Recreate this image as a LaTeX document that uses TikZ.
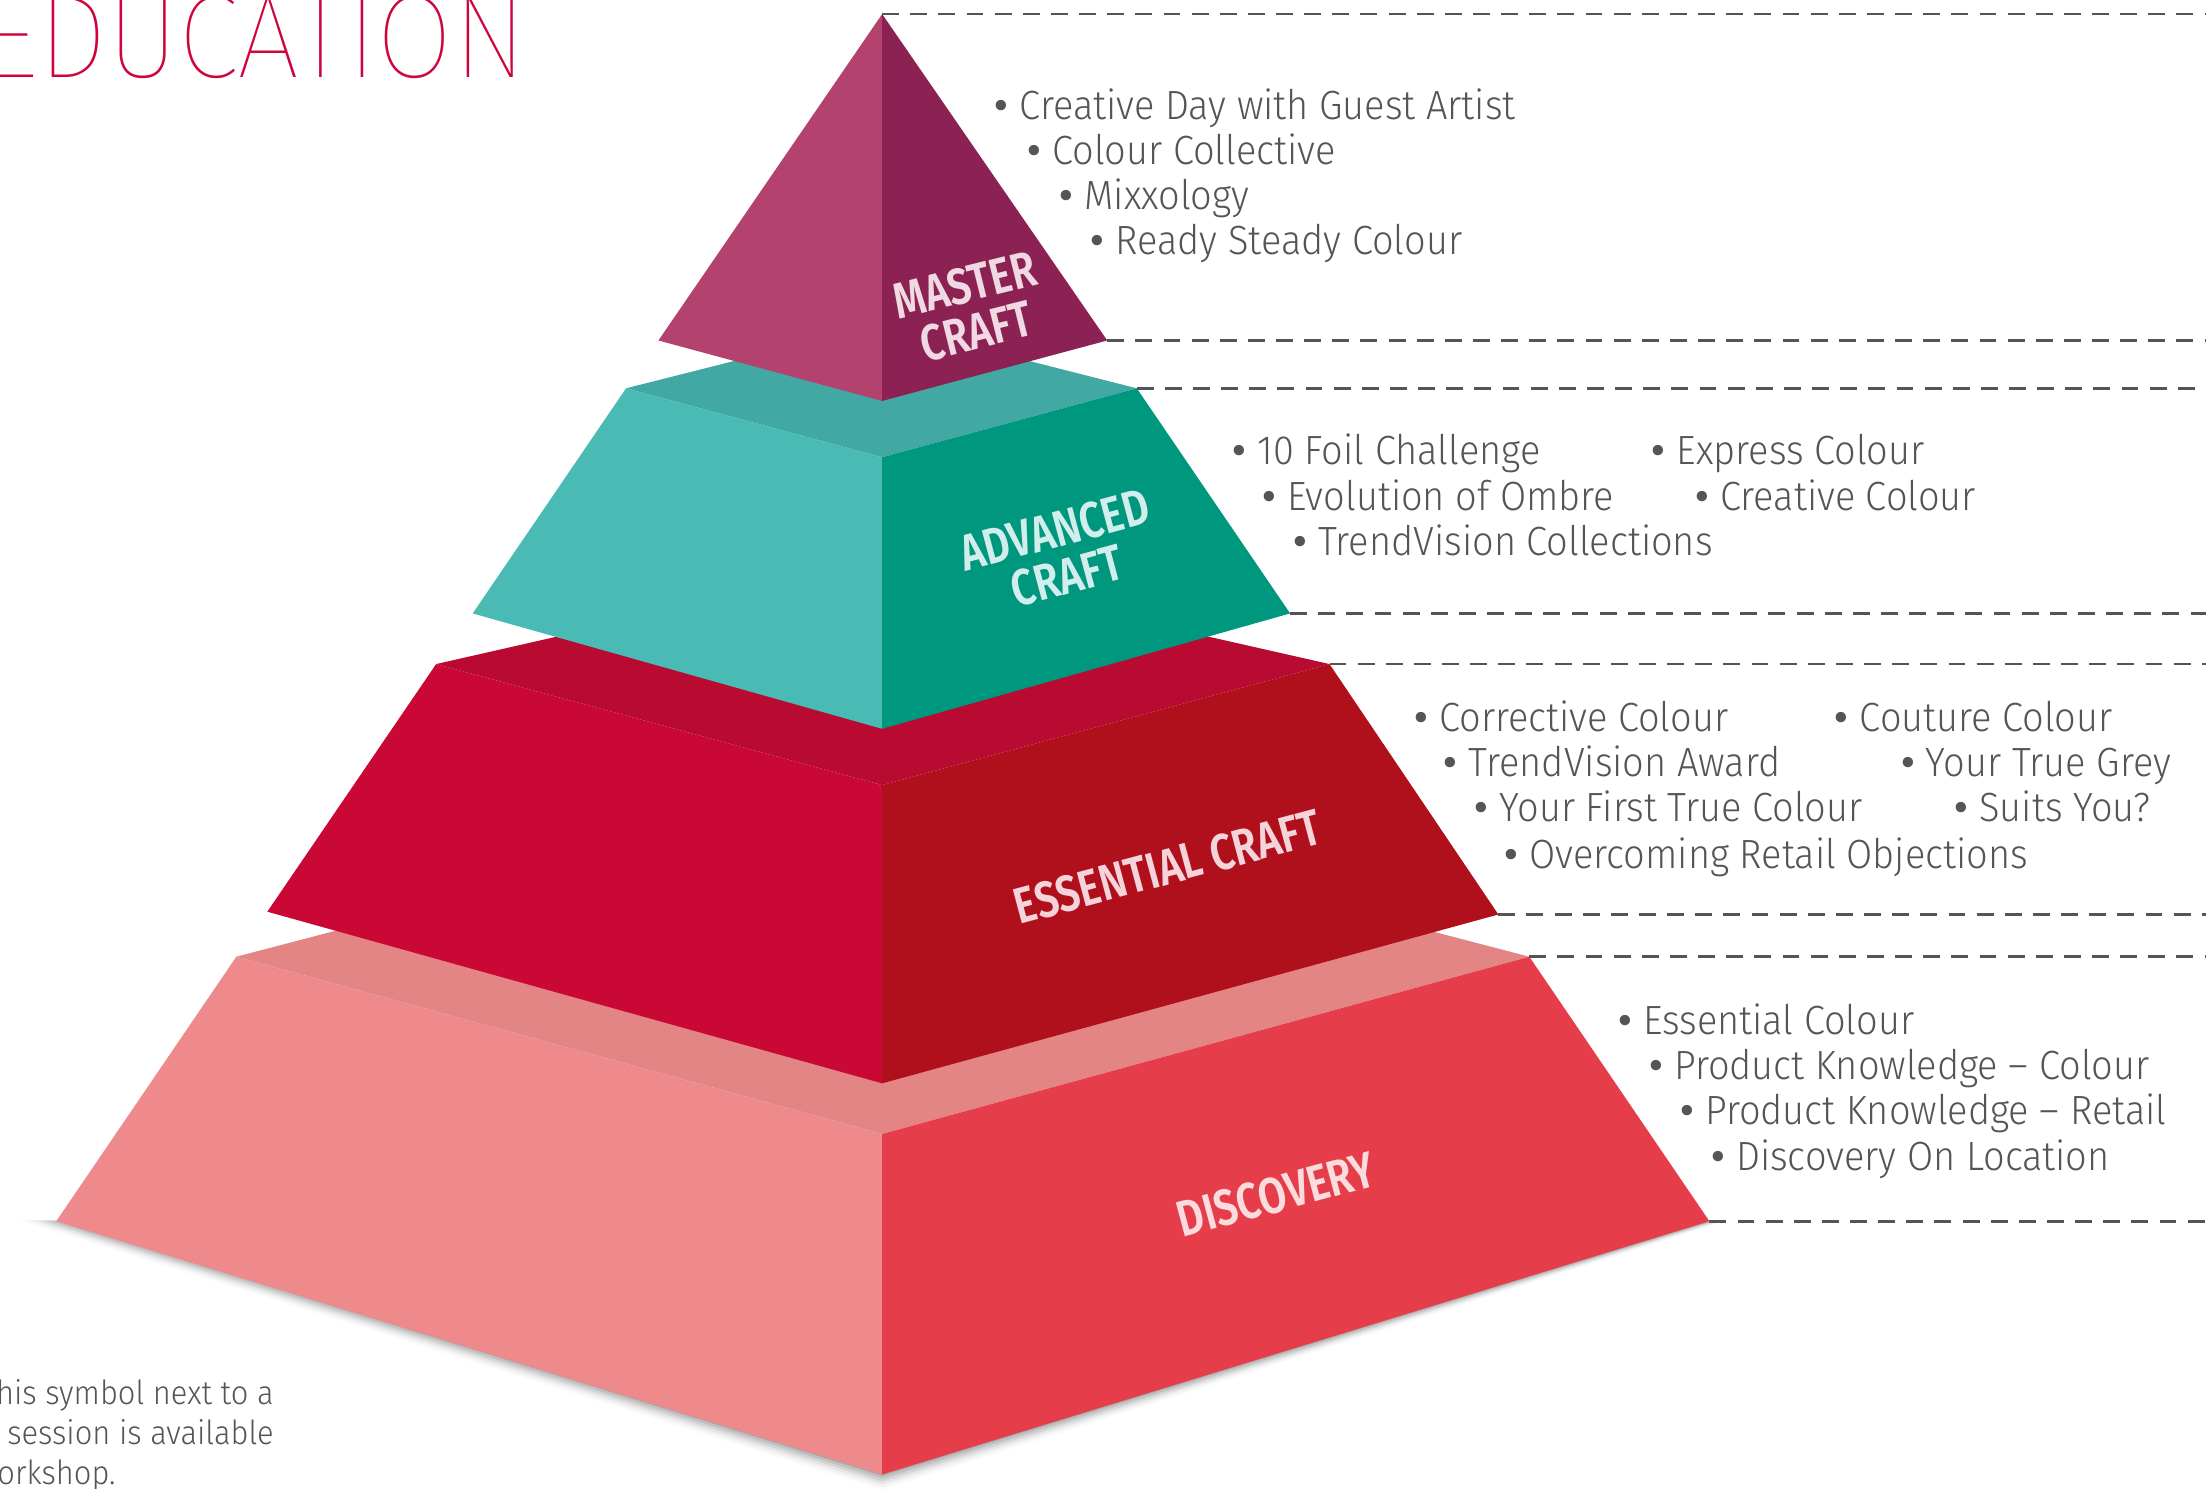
\documentclass[tikz,border=0pt]{standalone}
\usepackage{fontspec}
\IfFontExistsTF{Fira Sans Light}{\newfontfamily\bodyfont[FakeStretch=0.93]{Fira Sans Light}}{\newfontfamily\bodyfont[FakeStretch=0.93]{Fira Sans}}
\IfFontExistsTF{Fira Sans SemiBold}{\newfontfamily\labfont[FakeStretch=0.8]{Fira Sans SemiBold}}{\newfontfamily\labfont[FakeStretch=0.8,FakeBold=1]{Fira Sans}}
\IfFontExistsTF{Fira Sans Thin}{\newfontfamily\thinfont[FakeStretch=0.94]{Fira Sans Thin}}{\newfontfamily\thinfont[FakeStretch=0.94]{Fira Sans}}
\IfFontExistsTF{Fira Sans Medium}{\newfontfamily\bulfont{Fira Sans Medium}}{\newfontfamily\bulfont{Fira Sans}}
\newcommand\bl{{\bulfont •}\hspace{8pt}}
\definecolor{mL}{HTML}{B3426F}
\definecolor{mR}{HTML}{8C2153}
\definecolor{aT}{HTML}{42A8A4}
\definecolor{aL}{HTML}{49BAB4}
\definecolor{aR}{HTML}{00977F}
\definecolor{eT}{HTML}{B90A32}
\definecolor{eL}{HTML}{C90836}
\definecolor{eR}{HTML}{B0101B}
\definecolor{dT}{HTML}{E38585}
\definecolor{dL}{HTML}{EE898C}
\definecolor{dR}{HTML}{E53E4A}
\definecolor{txt}{HTML}{555555}
\definecolor{crim}{HTML}{D0043C}
\begin{document}
\begin{tikzpicture}[x=1pt,y=-1pt,
  dashline/.style={draw=txt,line width=2pt,dash pattern=on 12pt off 8pt},
  item/.style={anchor=base west,inner sep=0pt,text=txt,font=\bodyfont\fontsize{29}{32}\selectfont},
  foot/.style={anchor=base west,inner sep=0pt,text=txt,font=\bodyfont\fontsize{23.6}{28}\selectfont},
  tierlab/.style={inner sep=0pt,align=center,font=\labfont\fontsize{36}{34}\selectfont}]
\useasboundingbox (0,0) rectangle (1568,1058);
\clip (0,0) rectangle (1568,1058);
\fill[white] (0,0) rectangle (1568,1058);

% shadow
\foreach \i/\o in {1/0.12,3/0.09,5/0.07,7/0.05,9/0.03,11/0.02}{
  \fill[black,opacity=\o] (40-2.5*\i,867) -- (627,1048+\i) -- (1215+\i,868) -- (627,900) -- cycle;
}

% discovery tier
\fill[dT] (168,680) -- (627,560) -- (1087,680) -- (627,806) -- cycle;
\fill[dL] (168,680) -- (627,806) -- (627,1048) -- (40,868) -- cycle;
\fill[dR] (627,806) -- (1087,680) -- (1215,868) -- (627,1048) -- cycle;
% essential tier
\fill[eT] (310,472) -- (627,400) -- (945,472) -- (627,558) -- cycle;
\fill[eL] (310,472) -- (627,558) -- (627,770) -- (190,648) -- cycle;
\fill[eR] (627,558) -- (945,472) -- (1065,650) -- (627,770) -- cycle;
% advanced tier
\fill[aT] (445,276) -- (627,230) -- (808,276) -- (627,325) -- cycle;
\fill[aL] (445,276) -- (627,325) -- (627,518) -- (336,436) -- cycle;
\fill[aR] (627,325) -- (808,276) -- (917,436) -- (627,518) -- cycle;
% master tier
\fill[mL] (627,10) -- (627,285) -- (468,242) -- cycle;
\fill[mR] (627,10) -- (787,242) -- (627,285) -- cycle;

% anchor coordinates
\coordinate (apex) at (627,10);
\coordinate (mB) at (787,242);
\coordinate (aTop) at (808,276);
\coordinate (aBot) at (917,436);
\coordinate (eTop) at (945,472);
\coordinate (eBot) at (1065,650);
\coordinate (dTop) at (1087,680);
\coordinate (dBot) at (1215,868);
\coordinate (r1) at (1568,10);
\coordinate (r2) at (1568,242);
\coordinate (r3) at (1568,276);
\coordinate (r4) at (1568,436);
\coordinate (r5) at (1568,472);
\coordinate (r6) at (1568,650);
\coordinate (r7) at (1568,680);
\coordinate (r8) at (1568,868);
\draw[dashline] (apex) -- (r1);
\draw[dashline] (mB) -- (r2);
\draw[dashline] (aTop) -- (r3);
\draw[dashline] (aBot) -- (r4);
\draw[dashline] (eTop) -- (r5);
\draw[dashline] (eBot) -- (r6);
\draw[dashline] (dTop) -- (r7);
\draw[dashline] (dBot) -- (r8);

% tier labels
\node[tierlab,text=mL!20!white,rotate=14] (labM) at (690,219) {MASTER\\CRAFT};
\node[tierlab,text=aL!25!white,rotate=15] (labA) at (754,393) {ADVANCED\\CRAFT};
\node[tierlab,text=eL!18!white,rotate=15] (labE) at (830,616) {ESSENTIAL CRAFT};
\node[tierlab,text=dR!18!white,rotate=15] (labD) at (907,849) {DISCOVERY};

% master items
\node[item] (m1) at (707,85) {\bl Creative Day with Guest Artist};
\node[item] (m2) at (730,117) {\bl Colour Collective};
\node[item] (m3) at (753,149) {\bl Mixxology};
\node[item] (m4) at (775,181) {\bl Ready Steady Colour};
% advanced items
\node[item] (a1) at (876,330) {\bl 10 Foil Challenge};
\node[item] (a2) at (897,363) {\bl Evolution of Ombre};
\node[item] (a3) at (919,395) {\bl TrendVision Collections};
\node[item] (a4) at (1174,330) {\bl Express Colour};
\node[item] (a5) at (1205,363) {\bl Creative Colour};
% essential items
\node[item] (e1) at (1005,520) {\bl Corrective Colour};
\node[item] (e2) at (1026,552) {\bl TrendVision Award};
\node[item] (e3) at (1048,584) {\bl Your First True Colour};
\node[item] (e4) at (1069,617) {\bl Overcoming Retail Objections};
\node[item] (e5) at (1304,520) {\bl Couture Colour};
\node[item] (e6) at (1351,552) {\bl Your True Grey};
\node[item] (e7) at (1389,584) {\bl Suits You?};
% discovery items
\node[item] (d1) at (1150,735) {\bl Essential Colour};
\node[item] (d2) at (1172,767) {\bl Product Knowledge – Colour};
\node[item] (d3) at (1194,799) {\bl Product Knowledge – Retail};
\node[item] (d4) at (1216,832) {\bl Discovery On Location};

% title
\node[anchor=base west,inner sep=0pt,text=crim,font=\thinfont\fontsize{84}{84}\selectfont] (title) at (-12,55) {EDUCATION};

% footnote
\node[foot] (f1) at (-3,998) {his symbol next to a};
\node[foot] (f2) at (5,1027) {session is available};
\node[foot] (f3) at (-2,1055) {orkshop.};
\end{tikzpicture}
\end{document}
